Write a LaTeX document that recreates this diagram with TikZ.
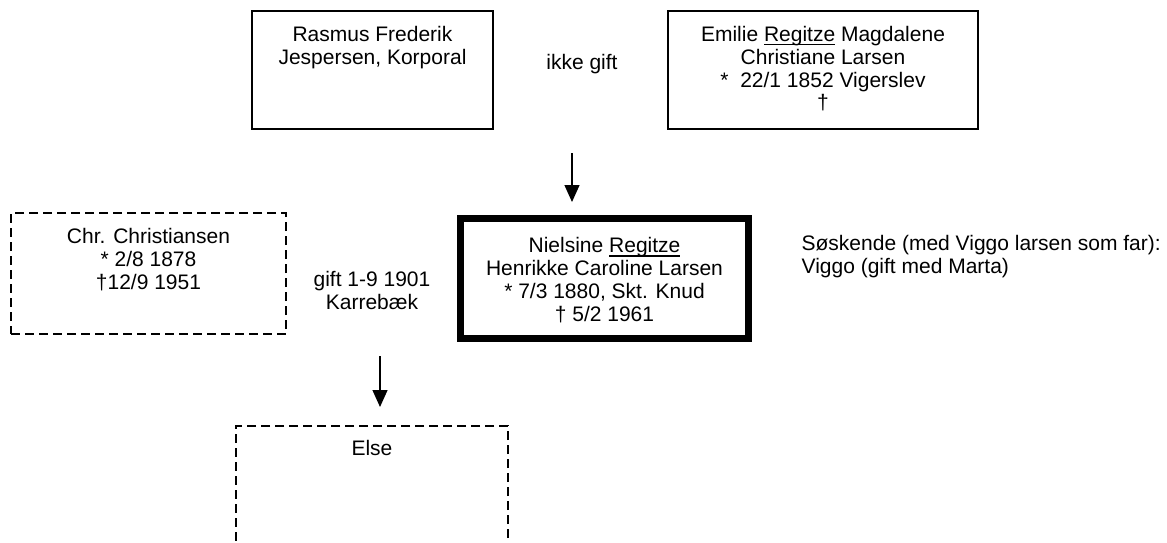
\documentclass[tikz,border=0pt]{standalone}
\usepackage{fontspec}
\setmainfont{Liberation Sans}
\usepackage{tikz}
\usetikzlibrary{arrows.meta,positioning}
\newcommand{\famtext}[4][30pt]{\parbox[c][#3][t]{#2}{\centering\rule{0pt}{#1}#4}}
\newcommand{\ulname}[1]{\setbox0\hbox{#1}\rlap{\rule[-4pt]{\wd0}{1.2pt}}\box0\relax}
\tikzset{
  every picture/.style = {
    line width = 1.3pt,
    >={Triangle[width=15pt,length=17pt]},
    x = 1pt,
    y = -1pt
  }
  ,
  person/.style = {
    rectangle,
    draw,
    inner sep = 0pt,
    font = \fontsize{21}{23}\selectfont
  }
  , % the person of the page
  person-main/.style = {
    person,
    line width = 7pt
  }
  , % persons outside the line
  person-dashed/.style = {
    person,
    dash pattern = on 9pt off 5pt
  }
  , % free text
  label-text/.style = {
    font = \fontsize{21}{23}\selectfont,
    align = center,
    inner sep = 0pt
  }
}
\begin{document}
\begin{tikzpicture}
		\useasboundingbox (0,0) rectangle (1167,543);
		\node at (372.5,70) [person] (rasmus) {\famtext{241pt}{118pt}{Rasmus Frederik\\Jespersen, Korporal}};
		\node at (823,70) [person] (emilie) {\famtext{310pt}{118pt}{Emilie \ulname{Regitze} Magdalene\\Christiane Larsen\\{*}~~22/1 1852 Vigerslev\\†}};
		\node at (582,70) [label-text, anchor=base] (notmarried) {ikke gift};

		\node at (604.5,278.5) [person-main] (nielsine) {\famtext[34pt]{288pt}{120pt}{Nielsine \ulname{Regitze}\\Henrikke Caroline Larsen\\{*} 7/3 1880, Skt. Knud\\† 5/2 1961}};
		\node at (148.5,273.5) [person-dashed] (chr) {\famtext{275pt}{121pt}{Chr. Christiansen\\{*} 2/8 1878\\†12/9 1951}};
		\node at (372,290) [label-text] (wedding) {gift 1-9 1901\\Karrebæk};
		\node at (801,235) [label-text, align=left, anchor=north west] (siblings) {Søskende (med Viggo larsen som far):\\Viggo (gift med Marta)};

		\node at (372,493) [person-dashed] (else) {\famtext[29pt]{272pt}{134pt}{Else}};

		\coordinate (parents) at (572,153);
		\coordinate (parents-tip) at (572,202);
		\coordinate (couple) at (380,356);
		\coordinate (couple-tip) at (380,407);

		\path (parents) edge [->] (parents-tip);
		\path (couple) edge [->] (couple-tip);
\end{tikzpicture}
\end{document}
